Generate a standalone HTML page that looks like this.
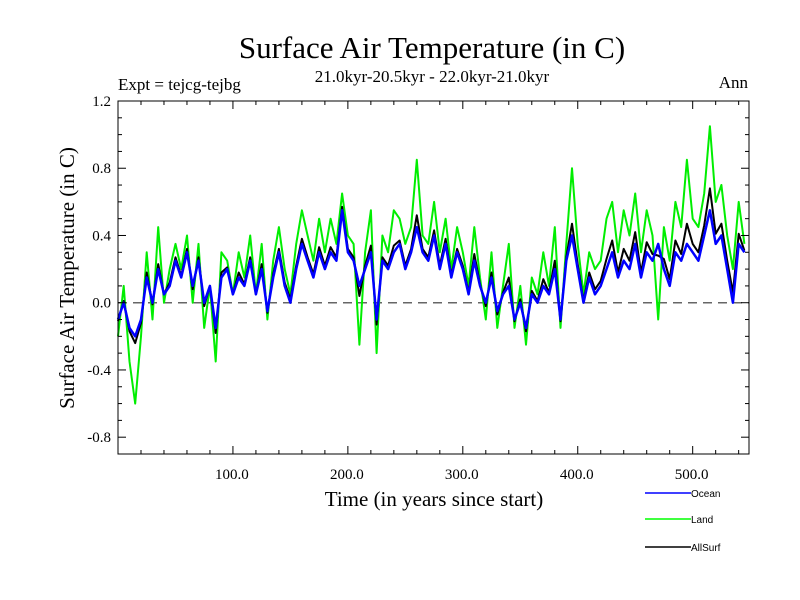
<!DOCTYPE html>
<html><head><meta charset="utf-8"><style>
body{margin:0;background:#fff;width:800px;height:600px;overflow:hidden}
svg{display:block}
text{font-family:"Liberation Serif",serif;fill:#000}
</style></head><body>
<svg id="chart" width="800" height="600" viewBox="0 0 800 600">
<text x="432" y="58" font-size="31" text-anchor="middle">Surface Air Temperature (in C)</text>
<text x="432" y="82" font-size="17" text-anchor="middle">21.0kyr-20.5kyr - 22.0kyr-21.0kyr</text>
<text x="118" y="90" font-size="17">Expt = tejcg-tejbg</text>
<text x="748" y="88" font-size="17" text-anchor="end">Ann</text>
<text transform="translate(74,278) rotate(-90)" font-size="21" text-anchor="middle">Surface Air Temperature (in C)</text>
<text x="434" y="506" font-size="21" text-anchor="middle">Time (in years since start)</text>
<g id="plot"></g>
<g>
<line x1="645" y1="493" x2="691" y2="493" stroke="#0000ff" stroke-width="1.5"/>
<text x="691" y="497" font-size="10" style="font-family:'Liberation Sans',sans-serif">Ocean</text>
<line x1="645" y1="519" x2="691" y2="519" stroke="#00ff00" stroke-width="1.5"/>
<text x="691" y="523" font-size="10" style="font-family:'Liberation Sans',sans-serif">Land</text>
<line x1="645" y1="547" x2="691" y2="547" stroke="#000" stroke-width="1.5"/>
<text x="691" y="551" font-size="10" style="font-family:'Liberation Sans',sans-serif">AllSurf</text>
</g>
</svg>
<script>
const years=[];for(let i=0;i<110;i++)years.push(i*5);
const ocean=[-0.1,0.0,-0.15,-0.2,-0.1,
0.15,0.0,0.2,0.05,0.1,0.25,
0.15,0.3,0.1,0.25,0.0,0.1,
-0.15,0.15,0.2,0.05,
0.15,0.1,0.25,0.05,0.2,-0.05,0.15,0.3,0.1,0.0,
0.2,0.35,0.25,0.15,0.3,0.2,0.3,0.25,0.55,0.3,
0.25,0.1,0.2,0.3,-0.1,0.25,0.2,0.3,0.35,0.2,
0.3,0.45,0.3,0.25,0.4,0.2,0.35,0.15,0.3,0.2,
0.05,0.25,0.1,0.0,0.15,-0.05,0.05,0.1,-0.1,0.0,
-0.15,0.05,0.0,0.1,0.05,0.2,-0.1,0.25,0.4,0.2,
0.0,0.15,0.05,0.1,0.2,0.3,0.15,0.25,0.2,0.35,
0.15,0.3,0.25,0.35,0.2,0.1,0.3,0.25,0.35,0.3,
0.25,0.4,0.55,0.35,0.4,0.2,0.0,0.35,0.3,0.4];
const land=[-0.2,0.1,-0.35,-0.6,-0.2,
0.3,-0.1,0.45,0.0,0.2,0.35,
0.2,0.4,0.0,0.35,-0.15,0.1,
-0.35,0.3,0.25,0.05,
0.3,0.15,0.4,0.05,0.35,-0.1,0.25,0.45,0.2,0.05,
0.35,0.55,0.4,0.25,0.5,0.3,0.5,0.35,0.65,0.4,
0.35,-0.25,0.3,0.55,-0.3,0.4,0.3,0.55,0.5,0.35,
0.45,0.85,0.4,0.35,0.6,0.3,0.5,0.2,0.45,0.3,
0.1,0.45,0.15,-0.1,0.3,-0.15,0.1,0.35,-0.15,0.1,
-0.25,0.15,0.05,0.3,0.1,0.45,-0.15,0.35,0.8,0.35,
0.05,0.3,0.2,0.25,0.5,0.6,0.3,0.55,0.4,0.65,
0.3,0.55,0.4,-0.1,0.45,0.25,0.6,0.45,0.85,0.5,
0.45,0.65,1.05,0.6,0.7,0.4,0.2,0.6,0.35,0.6];
const allsurf=[-0.11,0.01,-0.17,-0.24,-0.12,
0.18,-0.01,0.23,0.05,0.12,0.27,
0.16,0.32,0.08,0.27,-0.02,0.1,
-0.18,0.18,0.21,0.05,
0.18,0.11,0.27,0.05,0.23,-0.06,0.17,0.32,0.12,0.02,
0.22,0.38,0.27,0.17,0.33,0.22,0.33,0.27,0.57,0.32,
0.27,0.04,0.22,0.34,-0.13,0.27,0.22,0.34,0.37,0.22,
0.32,0.52,0.32,0.27,0.43,0.22,0.38,0.16,0.32,0.22,
0.06,0.29,0.11,-0.02,0.18,-0.07,0.06,0.15,-0.11,0.02,
-0.17,0.07,0.01,0.14,0.06,0.25,-0.11,0.27,0.47,0.23,
0.01,0.18,0.08,0.13,0.26,0.37,0.18,0.32,0.25,0.42,
0.18,0.36,0.29,0.28,0.26,0.14,0.37,0.29,0.47,0.35,
0.3,0.46,0.68,0.41,0.47,0.25,0.06,0.41,0.31,0.45];
const yTicks=[1.2,0.8,0.4,0.0,-0.4,-0.8];
const yTickLabels=["1.2","0.8","0.4","0.0","-0.4","-0.8"];
const xTicks=[100,200,300,400,500];
const xTickLabels=["100.0","200.0","300.0","400.0","500.0"];

const L=118,R=749,T=101,B=454,XMIN=0,XMAX=549,YMIN=-0.9,YMAX=1.2;
const sx=v=>L+(v-XMIN)/(XMAX-XMIN)*(R-L);
const sy=v=>B-(v-YMIN)/(YMAX-YMIN)*(B-T);
const NS="http://www.w3.org/2000/svg";
const g=document.getElementById('plot');
function mk(tag,attrs){const e=document.createElementNS(NS,tag);for(const k in attrs)e.setAttribute(k,attrs[k]);g.appendChild(e);return e;}
const z=mk('line',{x1:L,x2:R,y1:sy(0),y2:sy(0),stroke:'#666','stroke-width':1.5,'stroke-dasharray':'9,6'});


function series(vals,color,name,w){
  const d=vals.map((v,i)=>(i?'L':'M')+sx(years[i]).toFixed(1)+','+sy(v).toFixed(1)).join('');
  const p=mk('path',{d:d,fill:'none',stroke:color,'stroke-width':w,'stroke-linejoin':'round'});
  
  
}
series(land,'#00ee00','land-line',2);
series(allsurf,'#000000','allsurf-line',2);
series(ocean,'#0000ff','ocean-line',2.5);
const f=mk('rect',{x:L,y:T,width:R-L,height:B-T,fill:'none',stroke:'#000','stroke-width':1});


for(let v=20;v<XMAX;v+=20){const len=v%100===0?8:4;
  mk('line',{x1:sx(v),x2:sx(v),y1:B,y2:B-len,stroke:'#000'});
  mk('line',{x1:sx(v),x2:sx(v),y1:T,y2:T+len,stroke:'#000'});}
for(let i=-9;i<=12;i++){const v=i/10;const len=(i%4===0)?8:4;
  mk('line',{x1:L,x2:L+len,y1:sy(v),y2:sy(v),stroke:'#000'});
  mk('line',{x1:R,x2:R-len,y1:sy(v),y2:sy(v),stroke:'#000'});}
yTicks.forEach((v,i)=>{const t=mk('text',{x:L-7,y:sy(v)+5,'font-size':15,'text-anchor':'end'});t.textContent=yTickLabels[i];
  
  });
xTicks.forEach((v,i)=>{const t=mk('text',{x:sx(v)-1,y:479,'font-size':15,'text-anchor':'middle'});t.textContent=xTickLabels[i];
  
  });
</script>
</body></html>
